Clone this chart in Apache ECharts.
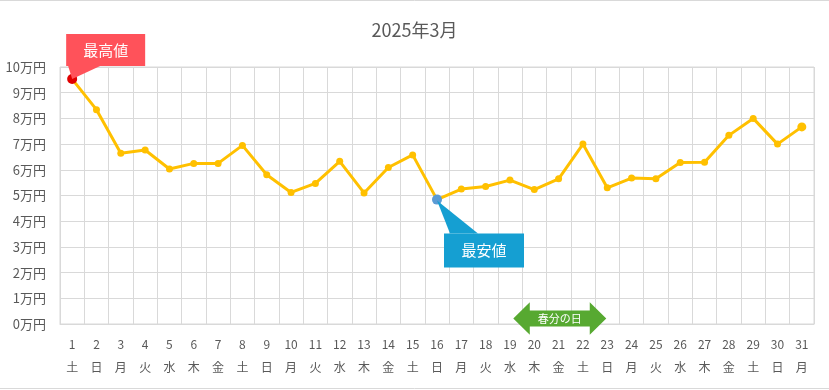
<!DOCTYPE html>
<html><head><meta charset="utf-8">
<script src="https://cdn.jsdelivr.net/npm/echarts@6/dist/echarts.min.js"></script>
<style>html,body{margin:0;padding:0;background:#fff}#c{width:829px;height:390px}</style>
</head><body><div id="c"></div>
<script>
const days = ['1','2','3','4','5','6','7','8','9','10','11','12','13','14','15','16','17','18','19','20','21','22','23','24','25','26','27','28','29','30','31'];
const weekdays = ['土','日','月','火','水','木','金','土','日','月','火','水','木','金','土','日','月','火','水','木','金','土','日','月','火','水','木','金','土','日','月'];
const prices = [95300,83400,66400,67700,60300,62500,62500,69500,58100,51200,54700,63300,51000,60900,65800,48400,52500,53500,56000,52300,56500,70000,53000,56800,56500,62800,62900,73400,80000,70000,76700];
const yTicks = {min:0, max:100000, interval:10000};
const holidayStart = 19, holidayEnd = 22; // index of 20日, 23日
const FONT = '"Noto Sans CJK JP", "Noto Sans", sans-serif';

const maxIdx = prices.indexOf(Math.max(...prices));
const minIdx = prices.indexOf(Math.min(...prices));
const cats = days.map((d,i)=>d+'\n'+weekdays[i]);
const seriesData = prices.map((v,i)=>{
  if(i===maxIdx) return {value:v, symbolSize:10, itemStyle:{color:'#E00000'}};
  if(i===minIdx) return {value:v, symbolSize:10, itemStyle:{color:'#5B9BD5'}};
  if(i===prices.length-1) return {value:v, symbolSize:9};
  return v;
});

const chart = echarts.init(document.getElementById('c'));
chart.setOption({
  animation:false,
  backgroundColor:'#fff',
  title:{text:'2025年3月', left:'center', top:16, textStyle:{color:'#595959', fontSize:18, fontWeight:'normal', fontFamily:FONT}},
  grid:{left:60, right:15, top:67, bottom:66, show:true, borderColor:'#D9D9D9', borderWidth:1},
  xAxis:{type:'category', data:cats, boundaryGap:true,
    axisLine:{lineStyle:{color:'#D9D9D9'}}, axisTick:{show:false},
    splitLine:{show:true, interval:0, lineStyle:{color:'#D9D9D9'}},
    axisLabel:{interval:0, color:'#595959', fontSize:12, lineHeight:23, margin:9, fontFamily:FONT}},
  yAxis:{type:'value', min:yTicks.min, max:yTicks.max, interval:yTicks.interval,
    axisLine:{show:false}, axisTick:{show:false},
    splitLine:{lineStyle:{color:'#D9D9D9'}},
    axisLabel:{color:'#595959', fontSize:13, margin:14, fontFamily:FONT, formatter:v=>(v/10000)+'万円'}},
  series:[{type:'line', data:seriesData, symbol:'circle', symbolSize:7,
    lineStyle:{color:'#FFC000', width:3}, itemStyle:{color:'#FFC000'}, z:3}]
});

function draw(){
  const pMax = chart.convertToPixel({seriesIndex:0}, [maxIdx, prices[maxIdx]]);
  const pMin = chart.convertToPixel({seriesIndex:0}, [minIdx, prices[minIdx]]);
  const hs = chart.convertToPixel({xAxisIndex:0}, holidayStart);
  const he = chart.convertToPixel({xAxisIndex:0}, holidayEnd);
  const y0 = chart.convertToPixel({yAxisIndex:0}, 0);
  const L = hs - 21, R = he - 1, cy = y0 - 5.5, cx = (L+R)/2;
  const head = 16.5, hh = 16.2, bh = 8;
  chart.setOption({graphic:[
    {type:'line', shape:{x1:0,y1:0.5,x2:829,y2:0.5}, style:{stroke:'#D9D9D9', lineWidth:1}},
    {type:'line', shape:{x1:0,y1:388.5,x2:829,y2:388.5}, style:{stroke:'#D9D9D9', lineWidth:1}},
    {type:'polygon', z:10, shape:{points:[[pMax[0]-4,pMax[1]-13],[pMax[0]+28,pMax[1]-13],[pMax[0],pMax[1]]]}, style:{fill:'#FF525A'}},
    {type:'rect', z:10, shape:{x:pMax[0]-6, y:pMax[1]-45, width:79, height:32}, style:{fill:'#FF525A'}},
    {type:'text', z:11, x:pMax[0]+33.5, y:pMax[1]-29, style:{text:'最高値', fill:'#fff', fontSize:15, fontFamily:FONT, align:'center', verticalAlign:'middle'}},
    {type:'polygon', z:10, shape:{points:[[pMin[0],pMin[1]+1],[pMin[0]+13,pMin[1]+34],[pMin[0]+41,pMin[1]+34]]}, style:{fill:'#159FD2'}},
    {type:'rect', z:10, shape:{x:pMin[0]+7, y:pMin[1]+34, width:80, height:34}, style:{fill:'#159FD2'}},
    {type:'text', z:11, x:pMin[0]+47, y:pMin[1]+51, style:{text:'最安値', fill:'#fff', fontSize:15, fontFamily:FONT, align:'center', verticalAlign:'middle'}},
    {type:'polygon', z:10, shape:{points:[[L,cy],[L+head,cy-hh],[L+head,cy-bh],[R-head,cy-bh],[R-head,cy-hh],[R,cy],[R-head,cy+hh],[R-head,cy+bh],[L+head,cy+bh],[L+head,cy+hh]]}, style:{fill:'#57A931'}},
    {type:'text', z:11, x:cx, y:cy, style:{text:'春分の日', fill:'#fff', fontSize:11, fontFamily:FONT, align:'center', verticalAlign:'middle'}}
  ]});
}
draw();
</script></body></html>
